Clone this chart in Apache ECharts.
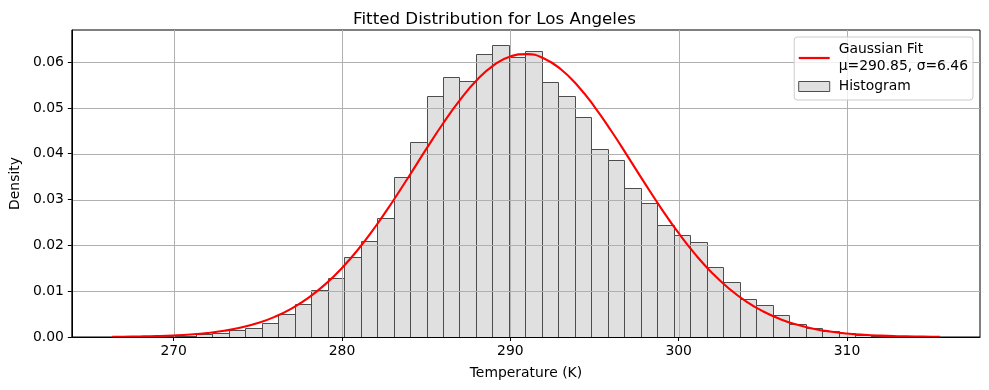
<!DOCTYPE html>
<html>
<head>
<meta charset="utf-8">
<script src="https://cdn.jsdelivr.net/npm/echarts@6/dist/echarts.min.js"></script>
<style>
html,body{margin:0;padding:0;background:#fff;}
#chart{width:989px;height:390px;}
</style>
</head>
<body>
<div id="chart"></div>
<script>
// ---- data ----
const binStart = 266.42;          // left edge of first bin (K)
const binWidth = 0.979;           // bin width (K)
const binDensity = [
  0.00005, 0.00005, 0.0001, 0.0002, 0.0003, 0.0007, 0.0009, 0.00146, 0.0019, 0.0030,
  0.0050, 0.0071, 0.0102, 0.0128, 0.0174, 0.0210, 0.0259, 0.0349, 0.0425, 0.0526,
  0.0567, 0.0558, 0.0618, 0.0638, 0.0612, 0.0624, 0.0557, 0.0526, 0.0480, 0.0410,
  0.0386, 0.0325, 0.0293, 0.0245, 0.0223, 0.0207, 0.0153, 0.0119, 0.0082, 0.0070,
  0.0048, 0.0029, 0.0020, 0.0013, 0.0009, 0.0005, 0.0002, 0.0001, 0.00005, 0.00005
];
const curveX = [266.35, 267, 268, 269, 270, 271, 272, 273, 274, 275, 276, 277, 278, 279, 280,
  281, 282, 283, 284, 285, 286, 287, 288, 289, 290, 291, 292, 293, 294, 295, 296, 297, 298,
  299, 300, 301, 302, 303, 304, 305, 306, 307, 308, 309, 310, 311, 312, 313, 314, 315, 315.52];
const curveY = [0.000046, 0.000068, 0.000119, 0.000203, 0.000338, 0.00055, 0.000875, 0.001358,
  0.002057, 0.003044, 0.004397, 0.006201, 0.008541, 0.01148, 0.01507, 0.01931, 0.02417,
  0.02952, 0.03520, 0.04099, 0.04659, 0.05171, 0.05603, 0.05928, 0.06123, 0.06174, 0.06079,
  0.05843, 0.05484, 0.05024, 0.04495, 0.03926, 0.03347, 0.02787, 0.02265, 0.01797, 0.01393,
  0.01054, 0.007782, 0.005608, 0.003948, 0.002714, 0.001821, 0.001193, 0.000763, 0.000476,
  0.00029, 0.000173, 0.0001, 0.000057, 0.000042];
const xTicks = [270, 280, 290, 300, 310];
const yTicks = [0, 0.01, 0.02, 0.03, 0.04, 0.05, 0.06];
const xMin = 263.95, xMax = 317.9;
const yMin = 0, yMax = 0.067;
const fitName = 'Gaussian Fit\nμ=290.85, σ=6.46';
const histName = 'Histogram';
const titleText = 'Fitted Distribution for Los Angeles';
const xLabel = 'Temperature (K)';
const yLabel = 'Density';

// ---- build ----
const histData = binDensity.map((h, i) => [binStart + i * binWidth, binStart + (i + 1) * binWidth, h]);
const curveData = curveX.map((x, i) => [x, curveY[i]]);
const FONT = 'DejaVu Sans';
const FS = 13.9;

const chart = echarts.init(document.getElementById('chart'), null, {renderer: 'canvas'});
chart.setOption({
  animation: false,
  backgroundColor: '#ffffff',
  textStyle: {fontFamily: FONT},
  title: {
    text: titleText, left: 'center', top: 6,
    textStyle: {fontFamily: FONT, fontSize: 16.7, fontWeight: 'normal', color: '#000'}
  },
  grid: {left: 70, right: 9, top: 30, bottom: 53, containLabel: false,
         show: true, borderColor: '#000', borderWidth: 1, backgroundColor: 'transparent'},
  legend: {
    orient: 'vertical', right: 16, top: 37,
    itemWidth: 31, itemHeight: 10, itemGap: 3,
    backgroundColor: 'rgba(255,255,255,0.8)', borderColor: '#cccccc', borderWidth: 1, borderRadius: 3,
    padding: [4, 5, 5, 4],
    textStyle: {fontFamily: FONT, fontSize: FS, color: '#000', lineHeight: 17, padding: [0, 0, 0, 4]},
    data: [
      {name: fitName, icon: 'path://M0,0L31,0L31,2.2L0,2.2Z', itemStyle: {color: '#ff0000'}},
      {name: histName, icon: 'rect', itemStyle: {color: '#e0e0e0', borderColor: '#4d4d4d', borderWidth: 1}}
    ]
  },
  xAxis: {
    type: 'value', min: xMin, max: xMax, z: 10,
    name: xLabel, nameLocation: 'middle', nameGap: 29,
    nameTextStyle: {fontFamily: FONT, fontSize: FS, color: '#000'},
    axisLine: {show: true, lineStyle: {color: '#000', width: 1}},
    axisTick: {show: true, customValues: xTicks, length: 4, inside: false, lineStyle: {color: '#000'}},
    axisLabel: {customValues: xTicks, margin: 7, fontFamily: FONT, fontSize: FS, color: '#000',
                formatter: v => String(Math.round(v))},
    splitLine: {show: false}
  },
  yAxis: {
    type: 'value', min: yMin, max: yMax, z: 10,
    name: yLabel, nameLocation: 'middle', nameGap: 47, nameRotate: 90,
    nameTextStyle: {fontFamily: FONT, fontSize: FS, color: '#000'},
    axisLine: {show: true, lineStyle: {color: '#000', width: 1}},
    axisTick: {show: true, customValues: yTicks, length: 4, inside: false, lineStyle: {color: '#000'}},
    axisLabel: {customValues: yTicks, margin: 8, fontFamily: FONT, fontSize: FS, color: '#000',
                formatter: v => v.toFixed(2)},
    splitLine: {show: false}
  },
  series: [
    {
      name: histName, type: 'custom', z: 2,
      itemStyle: {color: '#e0e0e0', borderColor: '#4d4d4d', borderWidth: 1},
      data: histData,
      encode: {x: [0, 1], y: 2},
      renderItem: function (params, api) {
        const p0 = api.coord([api.value(0), 0]);
        const p1 = api.coord([api.value(1), api.value(2)]);
        const x0 = Math.round(p0[0]) + 0.5, x1 = Math.round(p1[0]) + 0.5;
        const y0 = Math.round(p0[1]) + 0.5, y1 = Math.round(p1[1]) + 0.5;
        return {
          type: 'rect',
          shape: {x: x0, y: y1, width: x1 - x0, height: y0 - y1},
          style: {fill: '#e0e0e0', stroke: '#4d4d4d', lineWidth: 1}
        };
      }
    },
    {
      type: 'custom', z: 3, silent: true,
      data: xTicks, encode: {x: 0},
      renderItem: function (params, api) {
        const a = api.coord([api.value(0), yMin]);
        const b = api.coord([api.value(0), yMax]);
        const x = Math.round(a[0]) + 0.5;
        return {type: 'line', shape: {x1: x, y1: a[1], x2: x, y2: b[1]},
                style: {stroke: '#b0b0b0', lineWidth: 1}};
      }
    },
    {
      type: 'custom', z: 3, silent: true,
      data: yTicks, encode: {y: 0},
      renderItem: function (params, api) {
        const a = api.coord([xMin, api.value(0)]);
        const b = api.coord([xMax, api.value(0)]);
        const y = Math.round(a[1]) + 0.5;
        return {type: 'line', shape: {x1: a[0], y1: y, x2: b[0], y2: y},
                style: {stroke: '#b0b0b0', lineWidth: 1}};
      }
    },
    {
      name: fitName, type: 'line', z: 5,
      data: curveData, smooth: true, symbol: 'none',
      lineStyle: {color: '#ff0000', width: 2.1},
      itemStyle: {color: '#ff0000'}
    }
  ]
});
</script>
</body>
</html>
